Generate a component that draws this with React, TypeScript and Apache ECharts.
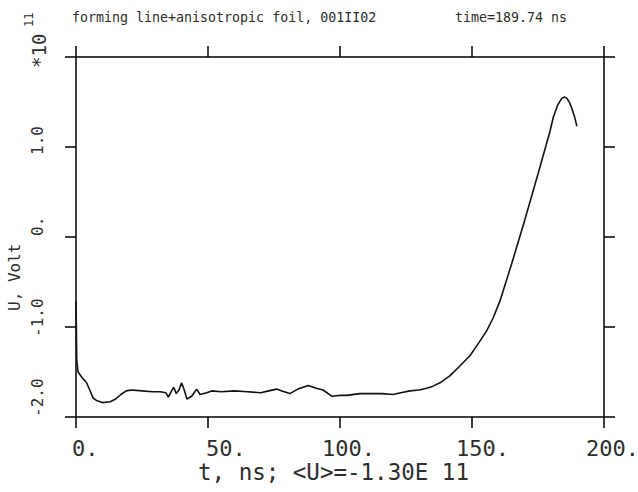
import React, { useEffect, useRef } from "react";
import * as echarts from "echarts";

// ---- data (U in units of 1e11 V, t in ns) ----
const tValues = [
  0, 0.3, 0.8, 2, 4, 5.5, 6.5, 8, 10, 13, 15, 17, 19, 21, 25, 29, 32, 34, 35, 36,
  37, 38, 39, 40, 41, 42, 43.8, 45.7, 47, 49.5, 51.4, 55, 60, 65, 70, 73, 76, 78,
  81, 84, 88, 91, 93.6, 97, 100, 102.5, 107.6, 112, 116, 120, 123, 126.5, 130,
  132.8, 135, 137.9, 141.7, 145.5, 149.2, 151.8, 155.6, 158, 160.6, 165, 170, 175,
  179.5, 180.8, 182.5, 184, 185, 186, 187, 187.8, 188.8, 189.74,
];
const uValues = [
  -0.71, -1.38, -1.5, -1.55, -1.62, -1.72, -1.79, -1.82, -1.84, -1.83, -1.8, -1.75,
  -1.71, -1.7, -1.71, -1.72, -1.72, -1.73, -1.78, -1.72, -1.67, -1.74, -1.7, -1.62,
  -1.7, -1.8, -1.77, -1.69, -1.75, -1.73, -1.71, -1.72, -1.71, -1.72, -1.73, -1.71,
  -1.69, -1.71, -1.74, -1.69, -1.65, -1.68, -1.7, -1.77, -1.76, -1.76, -1.74, -1.74,
  -1.74, -1.75, -1.73, -1.71, -1.7, -1.68, -1.66, -1.62, -1.54, -1.43, -1.32, -1.21,
  -1.04, -0.9, -0.71, -0.3, 0.19, 0.7, 1.17, 1.33, 1.47, 1.54, 1.555, 1.54, 1.49,
  1.43, 1.34, 1.23,
];
const xTicks = [0, 50, 100, 150, 200];
const xTickLabels = ["0.", "50.", "100.", "150.", "200."];
const yTicks = [-2, -1, 0, 1];
const yTickLabels = ["-2.0", "-1.0", "0.", "1.0"];
const titleText = "forming line+anisotropic foil, 001II02";
const timeText = "time=189.74 ns";
const xName = "t, ns; <U>=-1.30E 11";
const yName = "U, Volt";
const scaleText = "*10";
const scaleExp = "11";

// ---- layout (pixel offsets of labels relative to their ticks) ----
const xLabelShift = [-4, -2, -18, -16, -18];
const yLabelShift = [0, 10, -1, 8];

const MONO = '"DejaVu Sans Mono", monospace';
const INK = "#2e2e2e";

export default function App() {
  const ref = useRef<HTMLDivElement>(null);
  useEffect(() => {
    if (!ref.current) return;
    const chart = echarts.init(ref.current, null, { renderer: "svg" });
    const axisLine = { show: true, onZero: false, lineStyle: { color: "#000", width: 1.5 } };
    const axisTick = { show: true, length: 11, lineStyle: { color: "#000", width: 1.5 } };
    const common = { type: "value", axisLine, axisTick, axisLabel: { show: false }, splitLine: { show: false } };
    chart.setOption({
      animation: false,
      backgroundColor: "#fff",
      grid: { left: 76, right: 34, top: 57, bottom: 75 },
      xAxis: [
        { ...common, position: "bottom", min: 0, max: 200, interval: 50 },
        { ...common, position: "top", min: 0, max: 200, interval: 50 },
      ],
      yAxis: [
        { ...common, position: "left", min: -2, max: 2, interval: 1 },
        { ...common, position: "right", min: -2, max: 2, interval: 1 },
      ],
      series: [
        {
          type: "line",
          data: tValues.map((t, i) => [t, uValues[i]]),
          showSymbol: false,
          symbol: "none",
          lineStyle: { color: "#111", width: 1.6 },
          clip: false,
        },
      ],
    });

    const px = (v: number) => chart.convertToPixel({ xAxisIndex: 0 }, v) as number;
    const py = (v: number) => chart.convertToPixel({ yAxisIndex: 0 }, v) as number;
    const graphic: any[] = [];
    xTicks.forEach((v, i) => {
      graphic.push({
        type: "text",
        x: px(v) + xLabelShift[i],
        y: 448,
        style: { text: xTickLabels[i], font: `22px ${MONO}`, fill: INK, align: "left", verticalAlign: "middle" },
      });
    });
    yTicks.forEach((v, i) => {
      graphic.push({
        type: "text",
        x: 37,
        y: py(v) + yLabelShift[i],
        rotation: Math.PI / 2,
        style: { text: yTickLabels[i], font: `16px ${MONO}`, fill: INK, align: "left", verticalAlign: "middle" },
      });
    });
    graphic.push(
      { type: "text", x: 198, y: 472, style: { text: xName, font: `22.5px ${MONO}`, fill: INK, align: "left", verticalAlign: "middle" } },
      { type: "text", x: 14, y: 311, rotation: Math.PI / 2, style: { text: yName, font: `16px ${MONO}`, fill: INK, align: "left", verticalAlign: "middle" } },
      { type: "text", x: 39, y: 68, rotation: Math.PI / 2, style: { text: scaleText, font: `19px ${MONO}`, fill: INK, align: "left", verticalAlign: "middle" } },
      { type: "text", x: 29, y: 27, rotation: Math.PI / 2, style: { text: scaleExp, font: `12px ${MONO}`, fill: INK, align: "left", verticalAlign: "middle" } },
      { type: "text", x: 72, y: 17, style: { text: titleText, font: `13.3px ${MONO}`, fill: INK, align: "left", verticalAlign: "middle" } },
      { type: "text", x: 455, y: 17, style: { text: timeText, font: `13.3px ${MONO}`, fill: INK, align: "left", verticalAlign: "middle" } }
    );
    chart.setOption({ graphic });
    return () => chart.dispose();
  }, []);
  return <div ref={ref} style={{ position: "fixed", left: 0, top: 0, width: 638, height: 492, background: "#fff" }} />;
}
